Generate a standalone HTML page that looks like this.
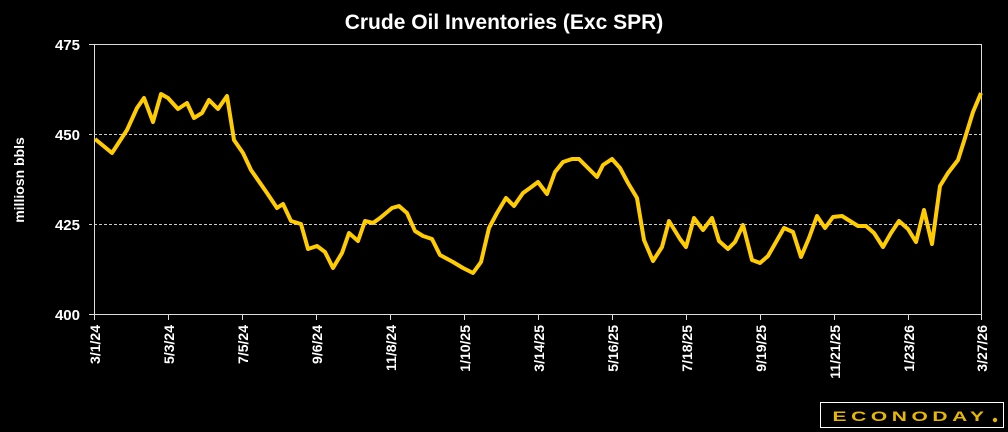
<!DOCTYPE html>
<html><head><meta charset="utf-8"><style>
html,body{margin:0;padding:0;background:#000;width:1008px;height:432px;overflow:hidden}
svg{display:block}
text{font-family:"Liberation Sans",sans-serif;font-weight:bold;fill:#fff}
</style></head><body>
<svg width="1008" height="432" viewBox="0 0 1008 432">
<text x="504" y="29" font-size="21" text-anchor="middle">Crude Oil Inventories (Exc SPR)</text>
<text transform="translate(24,180) rotate(-90)" font-size="14" text-anchor="middle">milliosn bbls</text>
<g font-size="15" text-anchor="end">
<text x="80" y="50">475</text><text x="80" y="140">450</text><text x="80" y="230">425</text><text x="80" y="320">400</text>
</g>
<line x1="89" y1="44.5" x2="982" y2="44.5" stroke="#ddd" stroke-width="1"/>
<line x1="89" y1="134.5" x2="982" y2="134.5" stroke="#ccc" stroke-width="1" stroke-dasharray="3,2"/>
<line x1="89" y1="224.5" x2="982" y2="224.5" stroke="#ccc" stroke-width="1" stroke-dasharray="3,2"/>
<line x1="89" y1="314.5" x2="982" y2="314.5" stroke="#ddd" stroke-width="1"/>
<line x1="94.5" y1="44" x2="94.5" y2="315" stroke="#ddd" stroke-width="1"/>
<line x1="981.5" y1="44" x2="981.5" y2="315" stroke="#ddd" stroke-width="1"/>
<g stroke="#ddd" stroke-width="1">
<line x1="94.5" y1="315" x2="94.5" y2="320"/><line x1="168.5" y1="315" x2="168.5" y2="320"/><line x1="242.5" y1="315" x2="242.5" y2="320"/><line x1="316.5" y1="315" x2="316.5" y2="320"/><line x1="390.5" y1="315" x2="390.5" y2="320"/><line x1="464.5" y1="315" x2="464.5" y2="320"/><line x1="538.5" y1="315" x2="538.5" y2="320"/><line x1="612.5" y1="315" x2="612.5" y2="320"/><line x1="686.5" y1="315" x2="686.5" y2="320"/><line x1="760.5" y1="315" x2="760.5" y2="320"/><line x1="834.5" y1="315" x2="834.5" y2="320"/><line x1="908.5" y1="315" x2="908.5" y2="320"/><line x1="981.5" y1="315" x2="981.5" y2="320"/>
</g>
<g font-size="14" text-anchor="end">
<text transform="translate(100,325) rotate(-90)">3/1/24</text>
<text transform="translate(174,325) rotate(-90)">5/3/24</text>
<text transform="translate(248,325) rotate(-90)">7/5/24</text>
<text transform="translate(322,325) rotate(-90)">9/6/24</text>
<text transform="translate(396,325) rotate(-90)">11/8/24</text>
<text transform="translate(470,325) rotate(-90)">1/10/25</text>
<text transform="translate(544,325) rotate(-90)">3/14/25</text>
<text transform="translate(618,325) rotate(-90)">5/16/25</text>
<text transform="translate(692,325) rotate(-90)">7/18/25</text>
<text transform="translate(766,325) rotate(-90)">9/19/25</text>
<text transform="translate(840,325) rotate(-90)">11/21/25</text>
<text transform="translate(914,325) rotate(-90)">1/23/26</text>
<text transform="translate(987,325) rotate(-90)">3/27/26</text>
</g>
<polyline fill="none" stroke="#ffcc00" stroke-width="4" stroke-linejoin="round" points="95,139 112,153 127,130 137,108 144,98 153,122 161,94 168,98 178,109 187,103 194,118 202,113 209,100 218,109 227,96 234,140 243,153 251,170 267,193 277,208 283,204 291,221 301,224 308,249 317,246 325,252 333,268 342,253 349,233 358,241 365,221 373,223 380,218 392,208 399,206 407,213 415,231 423,236 432,239 440,255 453,262 463,268 473,273 481,262 489,228 497,213 506,198 514,206 523,193 530,188 538,182 547,194 555,172 563,162 572,159 579,159 588,168 597,177 603,165 612,159 620,168 628,183 637,198 644,240 653,261 662,247 669,221 680,239 686,247 694,218 703,230 712,218 719,241 728,249 735,242 743,225 752,260 760,263 768,256 776,242 784,228 793,232 801,257 809,238 817,216 825,228 833,217 842,216 850,221 858,226 866,226 874,233 883,247 891,233 899,221 908,229 916,242 924,210 932,244 940,186 948,173 958,160 965,138 973,112 981,93"/>
<rect x="820.5" y="402.5" width="183" height="25" fill="#000" stroke="#fff" stroke-width="1"/>
<text transform="scale(1.5,1)" x="555" y="421" font-size="14" textLength="101" lengthAdjust="spacing" style="fill:#e8b800">ECONODAY</text>
<circle cx="995" cy="420" r="2.2" fill="#e8b800"/>
</svg>
</body></html>
